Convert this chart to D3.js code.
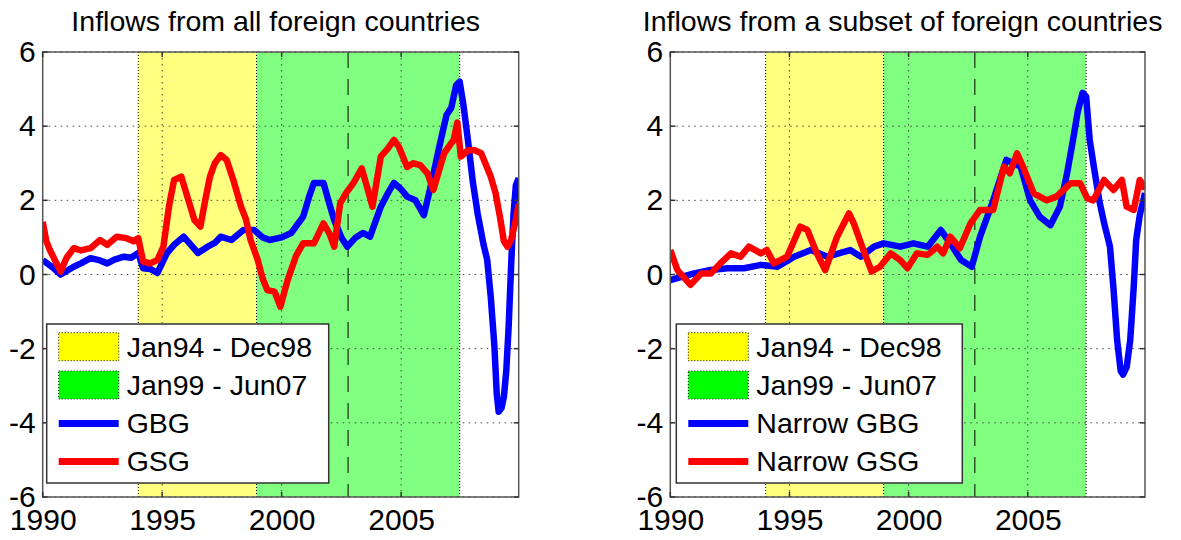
<!DOCTYPE html>
<html>
<head>
<meta charset="utf-8">
<script src="https://cdn.jsdelivr.net/npm/d3@7"></script>
<style>
  body { margin: 0; background: #fff; }
  text { font-family: "Liberation Sans", Arial, sans-serif; fill: #000; }
</style>
</head>
<body>
<svg id="vis-svg"></svg>
<script>
// axis ticks
var xTicks = [1990, 1995, 2000, 2005];
var yTicks = [-6, -4, -2, 0, 2, 4, 6];

// shaded periods
var periods = [
  {label: "Jan94 - Dec98", start: 1994.0, end: 1998.95},
  {label: "Jan99 - Jun07", start: 1998.95, end: 2007.45}
];
var breakYear = 2002.78;

// left panel: all foreign countries
var gbgYears = [1990.0, 1990.4, 1990.75, 1991.3, 1991.6, 1992.0, 1992.4, 1992.7, 1993.0, 1993.4,
  1993.7, 1994.0, 1994.2, 1994.5, 1994.8, 1995.2, 1995.5, 1995.9, 1996.2, 1996.5,
  1996.9, 1997.2, 1997.45, 1997.9, 1998.4, 1998.85, 1999.2, 1999.5, 2000.0, 2000.4,
  2000.9, 2001.15, 2001.35, 2001.75, 2002.0, 2002.2, 2002.5, 2002.75, 2003.1, 2003.4,
  2003.7, 2004.15, 2004.45, 2004.7, 2005.0, 2005.25, 2005.6, 2005.95, 2006.2, 2006.45,
  2006.65, 2006.9, 2007.1, 2007.3, 2007.45, 2007.6, 2007.8, 2008.0, 2008.2, 2008.45,
  2008.6, 2008.75, 2008.9, 2009.0, 2009.08, 2009.2, 2009.3, 2009.4, 2009.5, 2009.6,
  2009.7, 2009.8, 2009.92];
var gbgVals = [0.39, 0.2, 0.0, 0.21, 0.3, 0.44, 0.38, 0.3, 0.4, 0.48,
  0.45, 0.58, 0.17, 0.15, 0.04, 0.58, 0.8, 1.02, 0.8, 0.58,
  0.75, 0.85, 1.02, 0.93, 1.2, 1.2, 1.0, 0.93, 1.0, 1.12,
  1.56, 2.1, 2.47, 2.47, 1.9, 1.47, 1.0, 0.75, 1.0, 1.12,
  1.02, 1.83, 2.2, 2.47, 2.3, 2.1, 2.0, 1.6, 2.28, 3.0,
  3.6, 4.3, 4.5, 5.1, 5.2, 4.6, 3.6, 2.5, 1.65, 0.8,
  0.4, -0.6, -1.9, -3.2, -3.7, -3.6, -3.3, -2.6, -1.4, 0.2,
  1.6, 2.4, 2.6];

var gsgYears = [1990.0, 1990.15, 1990.3, 1990.5, 1990.75, 1991.0, 1991.3, 1991.6, 1992.0, 1992.4,
  1992.7, 1993.1, 1993.5, 1993.8, 1994.0, 1994.2, 1994.5, 1994.8, 1995.05, 1995.3,
  1995.5, 1995.8, 1996.1, 1996.35, 1996.6, 1996.8, 1997.0, 1997.2, 1997.45, 1997.7,
  1998.0, 1998.3, 1998.5, 1998.7, 1999.0, 1999.2, 1999.4, 1999.7, 1999.85, 1999.95,
  2000.1, 2000.25, 2000.6, 2000.9, 2001.35, 2001.75, 2002.0, 2002.2, 2002.45, 2002.7,
  2003.0, 2003.35, 2003.6, 2003.8, 2004.15, 2004.45, 2004.7, 2004.9, 2005.25, 2005.5,
  2005.8, 2006.1, 2006.35, 2006.8, 2007.2, 2007.35, 2007.5, 2007.8, 2008.05, 2008.35,
  2008.75, 2008.95, 2009.15, 2009.3, 2009.45, 2009.6, 2009.8, 2009.92];
var gsgVals = [1.42, 0.9, 0.66, 0.4, 0.08, 0.45, 0.71, 0.65, 0.71, 0.93,
  0.8, 1.02, 0.98, 0.9, 0.98, 0.35, 0.3, 0.39, 0.75, 1.9,
  2.55, 2.64, 2.0, 1.47, 1.29, 2.0, 2.64, 3.0, 3.22, 3.09,
  2.5, 1.83, 1.5, 0.93, 0.39, -0.1, -0.42, -0.46, -0.7, -0.87,
  -0.5, -0.15, 0.5, 0.84, 0.84, 1.38, 1.1, 0.75, 1.92, 2.2,
  2.46, 2.86, 2.3, 1.83, 3.18, 3.4, 3.63, 3.45, 2.9, 3.0,
  2.95, 2.73, 2.28, 3.27, 3.63, 4.1, 3.18, 3.35, 3.36, 3.27,
  2.64, 2.2, 1.5, 0.9, 0.75, 0.93, 1.47, 1.9];

// right panel: subset of foreign countries
var narrowGbgYears = [1990.0, 1991.0, 1991.7, 1992.4, 1993.1, 1993.8, 1994.5, 1995.2, 1995.9, 1996.6,
  1997.55, 1998.0, 1998.55, 1998.95, 1999.65, 2000.2, 2000.8, 2001.35, 2001.75, 2002.2,
  2002.65, 2003.0, 2003.55, 2004.1, 2004.7, 2005.1, 2005.5, 2005.95, 2006.35, 2006.65,
  2006.9, 2007.1, 2007.3, 2007.45, 2007.6, 2007.8, 2008.0, 2008.2, 2008.45, 2008.6,
  2008.75, 2008.9, 2009.0, 2009.15, 2009.3, 2009.45, 2009.55, 2009.7, 2009.92];
var narrowGbgVals = [-0.15, 0.03, 0.12, 0.17, 0.17, 0.26, 0.21, 0.48, 0.66, 0.48,
  0.66, 0.48, 0.75, 0.84, 0.75, 0.84, 0.75, 1.2, 0.84, 0.39,
  0.21, 1.02, 2.0, 3.09, 2.91, 2.0, 1.56, 1.33, 1.83, 2.73,
  3.63, 4.4, 4.9, 4.8, 3.63, 2.8, 2.0, 1.4, 0.75, -0.4,
  -1.77, -2.6, -2.7, -2.5, -1.77, -0.3, 0.93, 1.6, 2.2];

var narrowGsgYears = [1990.0, 1990.3, 1990.85, 1991.3, 1991.7, 1992.1, 1992.55, 1992.95, 1993.3, 1993.8,
  1994.05, 1994.35, 1994.9, 1995.45, 1995.75, 1996.15, 1996.5, 1997.0, 1997.5, 1997.7,
  1998.1, 1998.45, 1998.8, 1999.25, 1999.65, 1999.95, 2000.35, 2000.8, 2001.2, 2001.45,
  2001.75, 2002.15, 2002.6, 2003.0, 2003.55, 2004.0, 2004.25, 2004.55, 2004.8, 2005.25,
  2005.8, 2006.2, 2006.8, 2007.2, 2007.5, 2007.75, 2008.2, 2008.6, 2008.95, 2009.15,
  2009.45, 2009.7, 2009.92];
var narrowGsgVals = [0.66, 0.12, -0.28, 0.03, 0.03, 0.3, 0.57, 0.48, 0.75, 0.57,
  0.66, 0.3, 0.48, 1.29, 1.2, 0.57, 0.12, 1.02, 1.65, 1.38,
  0.66, 0.08, 0.21, 0.57, 0.39, 0.17, 0.57, 0.53, 0.75, 0.57,
  1.02, 0.71, 1.38, 1.74, 1.74, 2.91, 2.73, 3.27, 2.91, 2.19,
  2.0, 2.1, 2.46, 2.46, 2.05, 2.0, 2.55, 2.28, 2.55, 1.83,
  1.74, 2.55, 2.3];

var panels = [
  {
    title: "Inflows from all foreign countries",
    left: 42.7, right: 518.7, legendWidth: 282,
    series: [
      {name: "GBG", color: "#0000FF", years: gbgYears, values: gbgVals},
      {name: "GSG", color: "#FF0000", years: gsgYears, values: gsgVals}
    ]
  },
  {
    title: "Inflows from a subset of foreign countries",
    left: 670.3, right: 1145, legendWidth: 286,
    series: [
      {name: "Narrow GBG", color: "#0000FF", years: narrowGbgYears, values: narrowGbgVals},
      {name: "Narrow GSG", color: "#FF0000", years: narrowGsgYears, values: narrowGsgVals}
    ]
  }
];

var width = 1181;
var height = 540;
var plotTop = 52;
var plotBottom = 497;
var bandFill = ["#FFFF80", "#80FF80"];
var patchFill = ["#FFFF00", "#00FF00"];

var svg = d3.select('#vis-svg')
  .attr('width', width)
  .attr('height', height);

function drawPanel(p, idx) {
  var g = svg.append('g');

  var xScale = d3.scaleLinear()
    .domain([1990, 2009.92])
    .range([p.left, p.right]);
  var yScale = d3.scaleLinear()
    .domain([-6, 6])
    .range([plotBottom, plotTop]);

  var clipId = 'clip' + idx;
  g.append('clipPath').attr('id', clipId)
    .append('rect')
    .attr('x', p.left).attr('y', plotTop)
    .attr('width', p.right - p.left).attr('height', plotBottom - plotTop);

  // shaded periods
  g.selectAll('.band')
    .data(periods)
    .enter()
    .append('rect')
    .attr('x', function(d){ return xScale(d.start); })
    .attr('y', plotTop)
    .attr('width', function(d){ return xScale(d.end) - xScale(d.start); })
    .attr('height', plotBottom - plotTop)
    .attr('fill', function(d, i){ return bandFill[i]; });

  // dotted edges of the bands
  periods.forEach(function(d) {
    [d.start, d.end].forEach(function(v) {
      g.append('line')
        .attr('x1', xScale(v)).attr('x2', xScale(v))
        .attr('y1', plotTop).attr('y2', plotBottom)
        .attr('stroke', '#000').attr('stroke-width', 1)
        .attr('stroke-dasharray', '1,2');
    });
  });

  // grid
  xTicks.slice(1).forEach(function(t) {
    g.append('line')
      .attr('x1', xScale(t)).attr('x2', xScale(t))
      .attr('y1', plotTop).attr('y2', plotBottom)
      .attr('stroke', '#444').attr('stroke-width', 1)
      .attr('stroke-dasharray', '1.5,4.5');
  });
  yTicks.forEach(function(t) {
    g.append('line')
      .attr('x1', p.left).attr('x2', p.right)
      .attr('y1', yScale(t)).attr('y2', yScale(t))
      .attr('stroke', '#444').attr('stroke-width', 1)
      .attr('stroke-dasharray', '1.5,4.5');
  });

  // break line
  g.append('line')
    .attr('x1', xScale(breakYear)).attr('x2', xScale(breakYear))
    .attr('y1', plotTop).attr('y2', plotBottom)
    .attr('stroke', '#000').attr('stroke-width', 1)
    .attr('stroke-dasharray', '16,11');

  // series lines
  var line = d3.line()
    .x(function(d){ return xScale(d[0]); })
    .y(function(d){ return yScale(d[1]); });

  p.series.forEach(function(s) {
    var pts = s.years.map(function(yr, i){ return [yr, s.values[i]]; });
    g.append('path')
      .datum(pts)
      .attr('clip-path', 'url(#' + clipId + ')')
      .attr('d', line)
      .attr('fill', 'none')
      .attr('stroke', s.color)
      .attr('stroke-width', 6.5)
      .attr('stroke-linejoin', 'round');
  });

  // box
  g.append('rect')
    .attr('x', p.left).attr('y', plotTop)
    .attr('width', p.right - p.left).attr('height', plotBottom - plotTop)
    .attr('fill', 'none')
    .attr('stroke', '#555').attr('stroke-width', 1.5);

  // inward tick marks
  xTicks.forEach(function(t) {
    [[plotBottom, plotBottom - 5], [plotTop, plotTop + 5]].forEach(function(e) {
      g.append('line')
        .attr('x1', xScale(t)).attr('x2', xScale(t))
        .attr('y1', e[0]).attr('y2', e[1])
        .attr('stroke', '#333').attr('stroke-width', 1.5);
    });
  });
  yTicks.forEach(function(t) {
    [[p.left, p.left + 5], [p.right, p.right - 5]].forEach(function(e) {
      g.append('line')
        .attr('x1', e[0]).attr('x2', e[1])
        .attr('y1', yScale(t)).attr('y2', yScale(t))
        .attr('stroke', '#333').attr('stroke-width', 1.5);
    });
  });

  // axes labels
  g.append('g')
    .attr('transform', `translate(0,${plotBottom})`)
    .call(d3.axisBottom(xScale).tickValues(xTicks).tickSize(0).tickPadding(12).tickFormat(d3.format('d')))
    .call(function(a){ a.select('.domain').remove(); })
    .selectAll('text')
    .attr('font-size', 30)
    .attr('font-family', '"Liberation Sans", Arial, sans-serif')
    .attr('fill', '#000');

  g.append('g')
    .attr('transform', `translate(${p.left},0)`)
    .call(d3.axisLeft(yScale).tickValues(yTicks).tickSize(0).tickPadding(7)
      .tickFormat(function(d){ return String(d); }))
    .call(function(a){ a.select('.domain').remove(); })
    .selectAll('text')
    .attr('font-size', 30)
    .attr('font-family', '"Liberation Sans", Arial, sans-serif')
    .attr('fill', '#000');

  // title
  g.append('text')
    .attr('x', (p.left + p.right) / 2 - 5)
    .attr('y', 31)
    .attr('text-anchor', 'middle')
    .attr('font-size', 28.5)
    .text(p.title);

  // legend
  var lx = p.left + (idx === 0 ? 4 : 6);
  var ly = 324;
  var leg = g.append('g');
  leg.append('rect')
    .attr('x', lx).attr('y', ly)
    .attr('width', p.legendWidth).attr('height', 159)
    .attr('fill', '#fff')
    .attr('stroke', '#333').attr('stroke-width', 1.5);

  var rows = periods.map(function(d, i){ return {label: d.label, patch: patchFill[i]}; })
    .concat(p.series.map(function(s){ return {label: s.name, color: s.color}; }));
  var rowY = [346.7, 385, 423.5, 461.5];

  rows.forEach(function(r, i) {
    var cy = rowY[i];
    if (r.patch) {
      leg.append('rect')
        .attr('x', lx + 12).attr('y', cy - 14)
        .attr('width', 60).attr('height', 28)
        .attr('fill', r.patch)
        .attr('stroke', '#000').attr('stroke-width', 1)
        .attr('stroke-dasharray', '1,2');
    } else {
      leg.append('line')
        .attr('x1', lx + 12).attr('x2', lx + 72)
        .attr('y1', cy).attr('y2', cy)
        .attr('stroke', r.color).attr('stroke-width', 7);
    }
    leg.append('text')
      .attr('x', lx + 80)
      .attr('y', cy)
      .attr('dy', '0.35em')
      .attr('font-size', 28.5)
      .text(r.label);
  });
}

panels.forEach(drawPanel);
</script>
</body>
</html>
